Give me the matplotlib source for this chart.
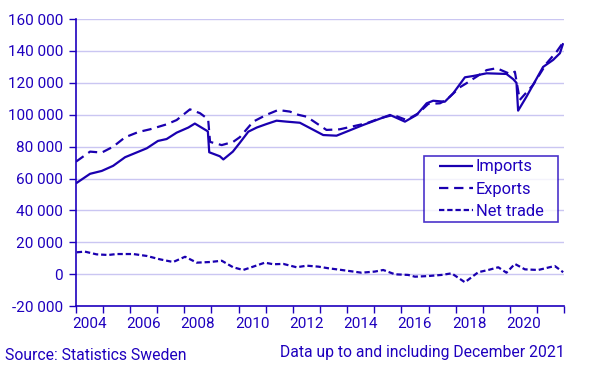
import matplotlib
matplotlib.use("Agg")
import matplotlib.pyplot as plt
from matplotlib.ticker import FixedLocator, FuncFormatter, NullFormatter

# ---- data (decimal year, SEK million) ----
imp_t = [2004.01, 2004.53, 2004.96, 2005.38, 2005.82, 2006.62, 2007.03, 2007.35, 2007.72,
         2008.15, 2008.39, 2008.83, 2008.87, 2008.92, 2009.31, 2009.44, 2009.79, 2010.05,
         2010.36, 2010.67, 2011.03, 2011.40, 2011.77, 2012.26, 2013.12, 2013.61, 2014.59,
         2015.58, 2016.13, 2016.56, 2016.93, 2017.17, 2017.60, 2017.91, 2018.34, 2018.64,
         2019.14, 2019.87, 2020.12, 2020.24, 2020.30, 2020.61, 2021.22, 2021.59, 2021.84,
         2021.96]
imp_v = [57.0, 63.0, 64.8, 68.0, 73.4, 79.0, 83.6, 84.8, 88.8,
         92.0, 94.5, 90.0, 89.5, 76.5, 74.0, 72.0, 76.9, 82.5,
         89.4, 92.0, 94.2, 96.3, 95.7, 95.0, 87.3, 86.9, 93.6,
         99.9, 95.7, 99.9, 107.2, 108.8, 108.2, 113.5, 123.5, 124.3,
         126.0, 125.6, 122.3, 120.0, 102.6, 111.4, 130.0, 134.4, 138.6,
         144.9]

exp_t = [2004.01, 2004.53, 2004.96, 2005.38, 2005.82, 2006.31, 2006.74, 2007.35, 2007.72,
         2008.21, 2008.58, 2008.88, 2008.95, 2009.38, 2009.80, 2010.05, 2010.54, 2011.03,
         2011.46, 2011.89, 2012.20, 2012.51, 2013.24, 2013.73, 2014.72, 2015.21, 2015.70,
         2016.19, 2016.62, 2016.99, 2017.42, 2017.66, 2018.15, 2018.40, 2019.14, 2019.51,
         2020.00, 2020.18, 2020.36, 2020.85, 2021.35, 2021.72, 2021.94]
exp_v = [70.6, 76.9, 76.3, 80.0, 85.9, 89.2, 90.9, 94.0, 96.7,
         103.4, 101.0, 97.2, 83.0, 81.0, 83.0, 86.0, 95.7, 100.0,
         103.0, 102.0, 100.0, 98.8, 90.5, 90.9, 94.7, 97.8, 99.9,
         96.7, 100.9, 106.8, 107.2, 109.3, 117.2, 119.8, 128.0, 129.2,
         125.6, 127.0, 109.3, 118.7, 132.3, 139.6, 144.9]

net_t = [2004.04, 2004.34, 2004.77, 2005.20, 2005.51, 2006.12, 2006.62, 2007.10, 2007.59,
         2008.03, 2008.46, 2008.95, 2009.38, 2009.80, 2010.17, 2010.54, 2010.97, 2011.28,
         2011.65, 2012.14, 2012.51, 2012.94, 2013.30, 2013.80, 2014.53, 2015.02, 2015.33,
         2015.76, 2016.25, 2016.50, 2016.99, 2017.48, 2017.85, 2018.34, 2018.83, 2019.20,
         2019.57, 2019.87, 2020.18, 2020.55, 2021.04, 2021.65, 2021.96]
net_v = [13.8, 14.2, 12.5, 12.1, 12.7, 12.7, 11.5, 9.4, 7.7,
         11.0, 7.3, 7.7, 8.5, 4.4, 2.7, 4.8, 7.3, 6.3,
         6.5, 4.4, 5.4, 4.8, 3.8, 2.7, 1.0, 1.7, 2.7,
         0.0, -0.4, -1.5, -1.1, -0.4, 0.6, -5.0, 1.3, 2.7,
         4.4, 1.0, 6.5, 3.1, 2.7, 5.2, 1.3]

series_names = ["Imports", "Exports", "Net trade"]
source_text = "Source: Statistics Sweden"
note_text = "Data up to and including December 2021"

# ---- style ----
plt.rcParams['font.family'] = ['Roboto', 'DejaVu Sans']
BLUE = '#1e00be'
LINE = '#1a00b0'
GRID = '#cac6f2'

fig = plt.figure(figsize=(5.89, 3.74), dpi=100)
ax = fig.add_axes([0.1285, 0.1813, 0.958 - 0.1285, 0.949 - 0.1813])

lw = 1.6
ax.plot(imp_t, [v * 1000 for v in imp_v], color=LINE, lw=lw, solid_capstyle='butt',
        label=series_names[0])
ax.plot(exp_t, [v * 1000 for v in exp_v], color=LINE, lw=lw, dashes=(4.2, 2.6),
        label=series_names[1])
ax.plot(net_t, [v * 1000 for v in net_v], color=LINE, lw=lw, dashes=(2.4, 1.3),
        label=series_names[2])

ax.set_xlim(2004, 2022)
ax.set_ylim(-20000, 160000)
ax.set_yticks(range(-20000, 160001, 20000))
ax.yaxis.set_major_formatter(FuncFormatter(
    lambda v, p: f"{int(v):,}".replace(",", " ")))
ax.grid(axis='y', color=GRID, lw=1.0)
ax.set_axisbelow(True)

ax.xaxis.set_major_locator(FixedLocator(list(range(2004, 2023))))
ax.xaxis.set_major_formatter(NullFormatter())
ax.xaxis.set_minor_locator(FixedLocator([y + 0.5 for y in range(2004, 2022, 2)]))
ax.xaxis.set_minor_formatter(FuncFormatter(lambda v, p: f"{int(v)}"))
ax.tick_params(axis='x', which='major', length=5, width=1, color=BLUE)
ax.tick_params(axis='x', which='minor', length=0, pad=8, labelsize=11, labelcolor=BLUE)
ax.tick_params(axis='y', length=5, width=1, color=BLUE, labelsize=11, labelcolor=BLUE, pad=4)

for s in ['top', 'right']:
    ax.spines[s].set_visible(False)
for s in ['left', 'bottom']:
    ax.spines[s].set_color(BLUE)
    ax.spines[s].set_linewidth(1.2)

leg = ax.legend(loc='upper left', bbox_to_anchor=(0.7436, 0.511), frameon=True,
                fancybox=False, edgecolor=BLUE, fontsize=11.8, handlelength=2.1,
                handletextpad=0.15, borderpad=0.0, labelspacing=0.45,
                borderaxespad=0)
frame = leg.get_frame()
frame.set_linewidth(1.2)
frame.set_boxstyle('square', pad=0.9)
frame.set_mutation_aspect(0.22)
for t in leg.get_texts():
    t.set_color(BLUE)

fig.text(5 / 589, 1 - 355 / 374, source_text, color=BLUE, fontsize=11.3, va='center', ha='left')
fig.text(565 / 589, 1 - 353 / 374, note_text, color=BLUE, fontsize=11.3, va='center', ha='right')

fig.savefig('out.png', dpi=100)
